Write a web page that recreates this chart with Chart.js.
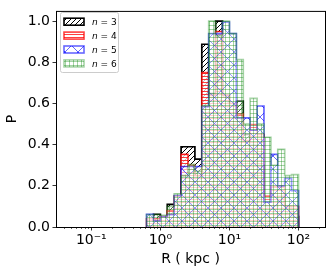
<!DOCTYPE html>
<html><head><meta charset="utf-8">
<script src="https://cdn.jsdelivr.net/npm/chart.js@4/dist/chart.umd.min.js"></script>
<style>html,body{margin:0;padding:0;background:#fff;}</style>
</head><body>
<canvas id="c" width="334" height="274" style="display:block;width:334px;height:274px"></canvas>
<script>
// ---- data ----
const binEdges = [0.631, 0.794, 1.0, 1.259, 1.585, 1.995, 2.512, 3.162, 3.981, 5.012, 6.31, 7.943, 10, 12.59, 15.85, 19.95, 25.12, 31.62, 39.81, 50.12, 63.1, 79.43, 100];
const seriesLabels = ['3', '4', '5', '6'];
const pN3 = [0, 0.062, 0, 0.11, 0.11, 0.39, 0.39, 0.33, 0.888, 0.648, 1.0, 0.64, 0.5, 0.612, 0.45, 0.4, 0.3, 0.1, 0.1, 0.15, 0.1, 0.05];
const pN4 = [0.04, 0.04, 0.05, 0.08, 0.15, 0.353, 0.3, 0.25, 0.75, 0.64, 0.95, 0.64, 0.6, 0.55, 0.42, 0.497, 0.45, 0.15, 0.198, 0.198, 0.1, 0.1];
const pN5 = [0.062, 0.03, 0.05, 0.06, 0.153, 0.294, 0.294, 0.294, 0.585, 0.94, 0.94, 0.995, 0.94, 0.53, 0.53, 0.47, 0.588, 0.121, 0.353, 0.2, 0.236, 0.177];
const pN6 = [0.06, 0.06, 0.057, 0.1, 0.161, 0.25, 0.305, 0.27, 0.59, 1.0, 0.93, 1.0, 0.94, 0.813, 0.5, 0.625, 0.5, 0.436, 0.3, 0.377, 0.25, 0.254];
const xMajorTicks = [0.1, 1, 10, 100];
const xTickLabels = ['10\u207B\u00B9', '10\u2070', '10\u00B9', '10\u00B2'];
const yTicks = [0, 0.2, 0.4, 0.6, 0.8, 1.0];

// ---- styles ----
const edgeColors = ['rgba(0,0,0,1)', 'rgba(255,0,0,0.75)', 'rgba(0,0,255,0.6)', 'rgba(0,128,0,0.35)'];
const faceColors = ['rgba(255,255,255,1)', 'rgba(255,255,255,0.75)', 'rgba(255,255,255,0.6)', 'rgba(255,255,255,0.35)'];
const hatchKinds = ['diag', 'h', 'x', 'grid'];
const hatchSizes = [5, 3, 13, 4];
const FONT = 'DejaVu Sans';

const canvas = document.getElementById('c');
const mainCtx = canvas.getContext('2d');
function makePattern(kind, color, face, size) {
  const t = document.createElement('canvas');
  t.width = size; t.height = size;
  const g = t.getContext('2d');
  g.fillStyle = face; g.fillRect(0, 0, size, size);
  g.strokeStyle = color; g.lineWidth = 1;
  g.beginPath();
  if (kind === 'diag' || kind === 'x') {
    for (const o of [-size, 0, size]) { g.moveTo(o, size); g.lineTo(o + size, 0); }
  }
  if (kind === 'x') {
    for (const o of [-size, 0, size]) { g.moveTo(o, 0); g.lineTo(o + size, size); }
  }
  if (kind === 'h' || kind === 'grid') { g.moveTo(0, 1.5); g.lineTo(size, 1.5); }
  if (kind === 'grid') { g.moveTo(1.5, 0); g.lineTo(1.5, size); }
  g.stroke();
  return mainCtx.createPattern(t, 'repeat');
}
const patterns = hatchKinds.map((k, i) => makePattern(k, edgeColors[i], faceColors[i], hatchSizes[i]));

function stepPoints(edges, vals) {
  const pts = [{x: edges[0], y: 0}];
  vals.forEach((v, k) => { pts.push({x: edges[k], y: v}); pts.push({x: edges[k + 1], y: v}); });
  pts.push({x: edges[edges.length - 1], y: 0});
  return pts;
}
const seriesValues = [pN3, pN4, pN5, pN6];

const xTickValues = [];
for (let d = -2; d <= 2; d++) for (let m = 1; m <= 9; m++) {
  const v = m * Math.pow(10, d);
  if (v >= 0.0308 && v <= 242) xTickValues.push(+v.toPrecision(3));
}
const isMajor = v => xMajorTicks.some(m => Math.abs(m - v) / m < 1e-6);

const framePlugin = {
  id: 'frame',
  afterDraw(chart) {
    const ctx = chart.ctx, a = chart.chartArea, xs = chart.scales.x;
    ctx.save();
    // minor ticks
    ctx.strokeStyle = '#000'; ctx.lineWidth = 0.6;
    ctx.beginPath();
    xs.ticks.forEach(t => {
      if (!isMajor(t.value)) {
        const px = Math.round(xs.getPixelForValue(t.value)) + 0.5;
        ctx.moveTo(px, a.bottom); ctx.lineTo(px, a.bottom + 2);
      }
    });
    ctx.stroke();
    // spines
    ctx.lineWidth = 1; ctx.strokeStyle = '#000';
    ctx.strokeRect(a.left + 0.5, a.top + 0.5, a.right - a.left, a.bottom - a.top);
    // legend
    const lx = 60.5, ly = 12.5, lw = 58, lh = 60;
    ctx.beginPath();
    ctx.roundRect(lx, ly, lw, lh, 2);
    ctx.fillStyle = 'rgba(255,255,255,0.8)'; ctx.fill();
    ctx.strokeStyle = '#cccccc'; ctx.lineWidth = 1; ctx.stroke();
    chart.data.datasets.forEach((ds, i) => {
      const cy = 21.7 + 13.9 * i;
      ctx.fillStyle = '#fff';
      ctx.fillRect(64, cy - 3.5, 20, 7);
      ctx.fillStyle = ds.backgroundColor;
      ctx.fillRect(64, cy - 3.5, 20, 7);
      ctx.strokeStyle = ds.borderColor; ctx.lineWidth = 1.6;
      ctx.strokeRect(64, cy - 3.5, 20, 7);
      ctx.fillStyle = '#000'; ctx.textBaseline = 'alphabetic'; ctx.textAlign = 'left';
      ctx.font = 'italic 9px "' + FONT + '"';
      ctx.fillText('n', 92, cy + 3.3);
      const w = ctx.measureText('n').width;
      ctx.font = '9px "' + FONT + '"';
      ctx.fillText(' = ' + seriesLabels[i], 92 + w, cy + 3.3);
    });
    ctx.restore();
  }
};

new Chart(canvas, {
  type: 'line',
  data: {
    datasets: seriesValues.map((vals, i) => ({
      label: 'n = ' + seriesLabels[i],
      data: stepPoints(binEdges, vals),
      borderColor: edgeColors[i],
      backgroundColor: patterns[i],
      borderWidth: 1.7,
      fill: 'origin',
      pointRadius: 0,
      tension: 0,
      order: 4 - i
    }))
  },
  options: {
    responsive: false,
    devicePixelRatio: 1,
    animation: false,
    layout: {padding: {top: 8, right: 9, left: 0, bottom: 0}},
    plugins: {legend: {display: false}, tooltip: {enabled: false}},
    scales: {
      x: {
        type: 'logarithmic', min: 0.0308, max: 242,
        afterBuildTicks: s => { s.ticks = xTickValues.map(v => ({value: v, major: isMajor(v)})); },
        afterFit: s => { s.height = 47; },
        ticks: {
          autoSkip: false, maxRotation: 0, minRotation: 0, padding: 1,
          color: '#000', font: {family: FONT, size: 14},
          callback: (v, idx, ticks) => {
            const val = ticks[idx].value;
            const j = xMajorTicks.findIndex(m => Math.abs(m - val) / m < 1e-6);
            return j >= 0 ? xTickLabels[j] : '';
          }
        },
        grid: {drawOnChartArea: false, drawTicks: true, tickLength: 3.5, tickWidth: 0.8,
               tickColor: c => (c.tick && isMajor(c.tick.value)) ? '#000' : 'rgba(0,0,0,0)'},
        border: {display: false},
        title: {display: true, text: 'R ( kpc )', color: '#000', font: {family: FONT, size: 14}, padding: {top: 0, bottom: 6}}
      },
      y: {
        min: 0, max: 1.05,
        afterBuildTicks: s => { s.ticks = yTicks.map(v => ({value: v})); },
        afterFit: s => { s.width = 56; },
        ticks: {padding: 2.5, color: '#000', font: {family: FONT, size: 14}, callback: v => Number(v).toFixed(1)},
        grid: {drawOnChartArea: false, drawTicks: true, tickLength: 3.5, tickWidth: 0.8, tickColor: '#000'},
        border: {display: false},
        title: {display: true, text: 'P', color: '#000', font: {family: FONT, size: 14}, padding: {top: 4, bottom: 4}}
      }
    }
  },
  plugins: [framePlugin]
});
</script>
</body></html>
